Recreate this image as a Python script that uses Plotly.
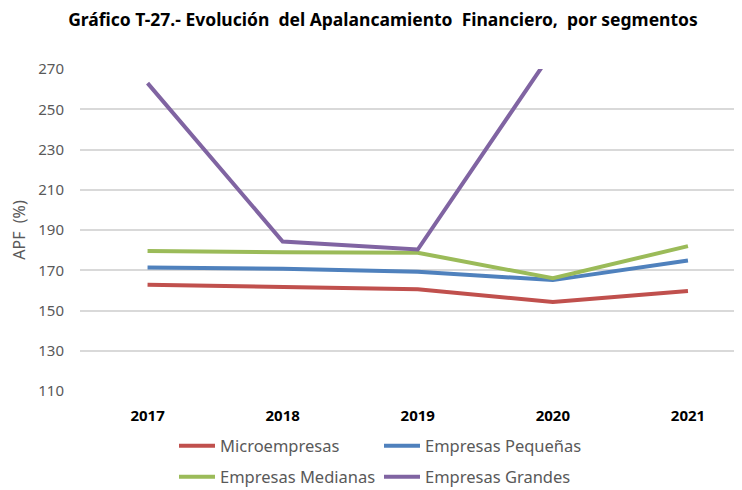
import plotly.graph_objects as go

years = ["2017", "2018", "2019", "2020", "2021"]
micro = [162.8, 161.9, 160.6, 154.2, 159.7]
pequenas = [171.4, 170.7, 169.3, 165.1, 174.8]
medianas = [179.6, 178.9, 178.7, 166.0, 182.0]
grandes = [263.0, 184.3, 180.3, 279.0, 290.0]

names = ["Microempresas", "Empresas Pequeñas", "Empresas Medianas", "Empresas Grandes"]
colors = ["#C0504D", "#4F81BD", "#9BBB59", "#8064A2"]
series = [micro, pequenas, medianas, grandes]
legends = ["legend", "legend", "legend2", "legend2"]

y_ticks = [110, 130, 150, 170, 190, 210, 230, 250, 270]

W, H = 734, 482  # page body has an 8px margin in the 742x490 window

fig = go.Figure()
for name, col, vals, lg in zip(names, colors, series, legends):
    fig.add_trace(go.Scatter(
        x=years, y=vals, mode="lines", name=name,
        line=dict(color=col, width=4), legend=lg,
    ))

font_family = "Noto Sans"
legend_common = dict(
    orientation="h", xref="container", yref="container",
    xanchor="left", yanchor="middle",
    font=dict(family=font_family, size=16.5, color="#595959"),
    entrywidth=154, entrywidthmode="pixels", itemwidth=36,
    bgcolor="rgba(0,0,0,0)", tracegroupgap=0,
)

fig.update_layout(
    width=W, height=H,
    margin=dict(l=72, r=0, t=61, b=99),
    paper_bgcolor="white", plot_bgcolor="white",
    title=dict(
        text="Gráfico T-27.- Evolución\u00a0 del Apalancamiento\u00a0 Financiero,\u00a0 por segmentos",
        x=(383 - 8) / W, xref="container", xanchor="center",
        y=1 - 12 / H, yref="container", yanchor="middle",
        font=dict(family=font_family, size=17.5, color="#000000", weight="bold"),
    ),
    xaxis=dict(
        type="category", range=[-0.5, 4.4],
        showgrid=False, zeroline=False, showline=False,
        tickfont=dict(family=font_family, size=15, color="#000000", weight="bold"),
        ticks="", ticklabelstandoff=14,
    ),
    yaxis=dict(
        range=[110, 270], tickvals=y_ticks,
        showgrid=True, gridcolor="#D9D9D9", gridwidth=1.5,
        zeroline=False, showline=False, ticks="",
        tickfont=dict(family=font_family, size=15, color="#595959"),
        ticklabelstandoff=15,
        title=dict(text="APF\u00a0 (%)", standoff=10,
                   font=dict(family=font_family, size=16, color="#595959")),
    ),
    legend=dict(x=(174 - 8) / W, y=1 - (446 - 8) / H, **legend_common),
    legend2=dict(x=(174 - 8) / W, y=1 - (477 - 8) / H, **legend_common),
)

fig.write_html("out.html")
